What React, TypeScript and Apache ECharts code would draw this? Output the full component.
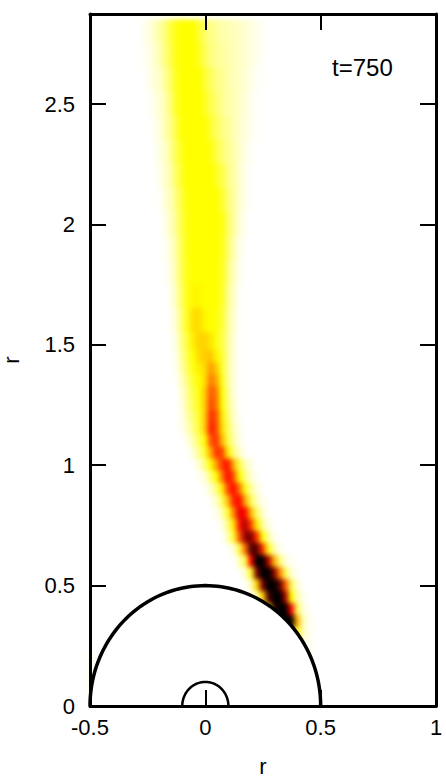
import React, { useEffect, useRef } from "react";
import * as echarts from "echarts";

// axis ticks and ranges
const xTicks = [-0.5, 0, 0.5, 1];
const yTicks = [0, 0.5, 1, 1.5, 2, 2.5];
const xMin = -0.5;
const xMax = 1;
const yMin = 0;
const yMax = 2.874;
const timeLabel = "t=750";
const axisName = "r";

// half-circles (radius in r units)
const sphereRadii = [0.5, 0.1];

// intensity field: 0 white, 3 yellow, 6 red, 9 black
const firstColumnX = -0.3;
const columnStep = 0.025;
const rowY = [
  2.8, 2.7, 2.6, 2.5, 2.4, 2.3, 2.2, 2.1, 2.0, 1.9, 1.8, 1.7, 1.6, 1.5, 1.45, 1.4, 1.35, 1.3, 1.25, 1.2,
  1.15, 1.1, 1.05, 1.0, 0.95, 0.9, 0.85, 0.8, 0.75, 0.7, 0.65, 0.6, 0.55, 0.5, 0.45, 0.4, 0.35, 0.3, 0.25, 0.2, 0.1,
];
const rowStart = [
  1, 1, 2, 2, 3, 3, 4, 4, 5, 5, 5, 6, 6, 6, 7, 7, 7, 8, 8, 8,
  8, 9, 10, 11, 11, 12, 13, 14, 15, 16, 17, 18, 19, 20, 21, 23, 25, 28, 30, -8, -8,
];
const rowLevels = [
  [0.1, 0.3, 0.6, 1, 1.5, 2.2, 2.8, 3, 3, 3, 2.4, 1.8, 1.4, 1.2, 1, 0.9, 0.8, 0.7, 0.5, 0.4, 0.2, 0.1],
  [0.05, 0.2, 0.5, 0.8, 1.4, 2.1, 2.7, 3, 3, 3, 2.6, 2, 1.5, 1.3, 1.1, 1, 0.8, 0.7, 0.5, 0.4, 0.2, 0.1],
  [0.1, 0.4, 0.6, 1.1, 1.8, 2.6, 3, 3, 3, 3, 2.4, 1.9, 1.5, 1.3, 1, 0.8, 0.7, 0.5, 0.3, 0.1, 0.05],
  [0.05, 0.2, 0.5, 0.8, 1.6, 2.5, 3, 3, 3, 3, 2.6, 2.1, 1.7, 1.3, 1, 0.9, 0.7, 0.4, 0.2, 0.05],
  [0.1, 0.4, 0.8, 1.4, 2.2, 2.9, 3, 3, 3, 3, 2.4, 1.9, 1.5, 1.2, 0.9, 0.6, 0.4, 0.2, 0.05],
  [0.05, 0.3, 0.6, 1.2, 2, 2.7, 3, 3, 3, 3, 2.8, 2.2, 1.7, 1.3, 1, 0.6, 0.3, 0.1],
  [0.2, 0.5, 1, 1.8, 2.5, 3, 3, 3, 3, 3, 2.6, 2.1, 1.5, 1, 0.6, 0.2, 0.05],
  [0.05, 0.4, 0.8, 1.5, 2.3, 2.9, 3, 3, 3, 3, 3, 2.4, 1.7, 1.1, 0.6, 0.2, 0.05],
  [0.2, 0.7, 1.3, 2.2, 2.8, 3, 3, 3, 3, 3, 2.8, 1.9, 1.1, 0.5, 0.1],
  [0.1, 0.5, 1.1, 2.1, 2.8, 3, 3, 3, 3, 3, 2.7, 1.8, 0.9, 0.3, 0.05],
  [0.05, 0.3, 1, 2, 2.8, 3, 3, 3, 3, 3, 2.6, 1.6, 0.7, 0.2],
  [0.2, 0.8, 1.9, 2.8, 3.1, 3.1, 3, 3, 3, 2.5, 1.4, 0.6, 0.1],
  [0.1, 0.6, 1.7, 2.7, 3.4, 3.4, 3.1, 3, 2.9, 2.3, 1.3, 0.5, 0.1],
  [0.05, 0.4, 1.4, 2.4, 3.2, 3.5, 3.5, 3.3, 2.8, 2.2, 1.2, 0.4, 0.05],
  [0.3, 1.2, 2.2, 3, 3.4, 3.6, 3.7, 3.1, 2.4, 1.2, 0.4, 0.05],
  [0.2, 1, 2, 2.8, 3.2, 3.4, 4.2, 3.6, 2.5, 1.2, 0.4, 0.05],
  [0.1, 0.7, 1.6, 2.5, 3, 3.4, 4.6, 4, 2.7, 1.2, 0.4, 0.05],
  [0.5, 1.3, 2.2, 2.9, 3.6, 5, 4.5, 3, 1.4, 0.4, 0.05],
  [0.4, 1.2, 2, 2.7, 3.6, 5.2, 4.6, 3, 1.5, 0.5, 0.1],
  [0.3, 1, 1.7, 2.5, 3.6, 5.5, 5, 3.2, 1.8, 0.6, 0.1],
  [0.2, 0.7, 1.5, 2.3, 3.6, 5.7, 5.1, 3.4, 2, 0.8, 0.2],
  [0.3, 1, 1.9, 3, 5, 5.4, 3.8, 2.2, 1, 0.3],
  [0.5, 1.3, 2.5, 4, 5.4, 5.2, 3.2, 1.6, 0.6, 0.1],
  [0.6, 1.5, 3, 4.2, 5.4, 5.8, 3.9, 2.2, 0.9, 0.3],
  [0.1, 0.5, 1.6, 3, 4.6, 5.9, 5, 3, 1.5, 0.5, 0.1],
  [0.1, 0.6, 1.6, 3.2, 5.2, 5.9, 4.6, 2.7, 1.2, 0.4, 0.05],
  [0.1, 0.7, 1.9, 3.8, 5.6, 5.9, 4, 2, 0.8, 0.2],
  [0.2, 0.9, 2.5, 4.5, 6.3, 5.9, 3.8, 1.8, 0.6, 0.1],
  [0.3, 1.5, 3.3, 5.8, 6.9, 5.3, 3.2, 1.3, 0.3],
  [0.9, 2.5, 5, 7.3, 7.5, 5.5, 3, 1.1, 0.2],
  [0.5, 2.2, 4.8, 8, 8, 5.5, 2.8, 1, 0.2],
  [0.8, 2.2, 6, 9, 9, 7, 4, 1.6, 0.4, 0.1],
  [0.6, 2.5, 7.5, 9, 9, 7.5, 4.5, 2, 0.5, 0.1],
  [0.8, 3.5, 7.5, 9, 9, 8, 5, 2, 0.5],
  [1, 3.5, 8, 9, 9, 7, 3, 1, 0.2],
  [3.5, 8.5, 9, 9, 6, 2, 0.5, 0.1],
  [9, 9, 9, 4, 1, 0.2],
  [3, 0.8, 0.2],
  [0.2],
  [0.15, 0.05],
  [0.25, 0.05],
];
const levelColors = ["#ffffff", "#ffff00", "#ff0000", "#000000"];

const fontFamily = "'Liberation Sans', Arial, sans-serif";

function rowBounds(r: number): [number, number] {
  const y = rowY[r];
  const up = r > 0 ? (rowY[r - 1] + y) / 2 : y + 0.05;
  const down = r < rowY.length - 1 ? (rowY[r + 1] + y) / 2 : y - 0.05;
  return [down, up];
}

const cells: number[][] = [];
rowLevels.forEach((levels, r) => {
  const [low, high] = rowBounds(r);
  levels.forEach((v, k) => {
    cells.push([firstColumnX + (rowStart[r] + k) * columnStep, rowY[r], v, low, high]);
  });
});

const grid = { left: 90, top: 14, width: 346, height: 692, outerBoundsMode: "none" };

function plumeOption(): any {
  return {
    animation: false,
    backgroundColor: "#ffffff",
    grid,
    xAxis: { type: "value", min: xMin, max: xMax, show: false },
    yAxis: { type: "value", min: yMin, max: yMax, show: false },
    visualMap: {
      show: false,
      type: "continuous",
      min: 0,
      max: 9,
      dimension: 2,
      seriesIndex: 0,
      inRange: { color: levelColors },
    },
    series: [
      {
        type: "custom",
        silent: true,
        clip: false,
        encode: { x: 0, y: 1 },
        data: cells,
        renderItem: (_: any, api: any) => {
          const half = columnStep / 2;
          const a = api.coord([api.value(0) - half, api.value(4)]);
          const b = api.coord([api.value(0) + half, api.value(3)]);
          return {
            type: "rect",
            shape: { x: a[0] - 0.5, y: a[1] - 0.5, width: b[0] - a[0] + 1, height: b[1] - a[1] + 1 },
            style: { fill: api.visual("color") },
          };
        },
      },
    ],
  };
}

function frameOption(): any {
  const line = { show: true, onZero: false, lineStyle: { color: "#000", width: 3 } };
  const tick = { show: true, inside: true, length: 16, lineStyle: { color: "#000", width: 2 } };
  const label = { color: "#000", fontSize: 22, fontFamily };
  const common = { type: "value", splitLine: { show: false }, axisLine: line, axisTick: tick, z: 5 };
  const xAxisBase = { ...common, min: xMin, max: xMax, interval: 0.5 };
  const yAxisBase = { ...common, min: yMin, max: yMax, interval: 0.5 };
  const xText = (v: number) => (xTicks.includes(v) ? String(v) : "");
  const yText = (v: number) => (yTicks.includes(v) ? String(v) : "");
  return {
    animation: false,
    backgroundColor: "transparent",
    grid,
    textStyle: { fontFamily },
    xAxis: [
      {
        ...xAxisBase,
        position: "bottom",
        name: axisName,
        nameLocation: "middle",
        nameGap: 49,
        nameTextStyle: { ...label },
        axisLabel: { ...label, margin: 10, formatter: xText, hideOverlap: false },
      },
      { ...xAxisBase, position: "top", axisLabel: { show: false } },
    ],
    yAxis: [
      {
        ...yAxisBase,
        position: "left",
        name: axisName,
        nameLocation: "middle",
        nameGap: 68,
        nameRotate: 90,
        nameTextStyle: { ...label },
        axisLabel: { ...label, margin: 15, formatter: yText, showMaxLabel: false },
      },
      { ...yAxisBase, position: "right", axisLabel: { show: false } },
    ],
    graphic: [
      {
        type: "text",
        x: 332,
        y: 55,
        style: { text: timeLabel, fill: "#000", fontSize: 24, fontFamily },
      },
    ],
    series: [
      {
        type: "custom",
        silent: true,
        clip: false,
        z: 3,
        xAxisIndex: 0,
        yAxisIndex: 0,
        encode: { x: 0, y: 1 },
        data: sphereRadii.map((r) => [0, 0, r]),
        renderItem: (params: any, api: any) => {
          const r = api.value(2);
          const points: number[][] = [];
          for (let a = 0; a <= 180; a += 2) {
            const t = (a * Math.PI) / 180;
            points.push(api.coord([r * Math.cos(t), r * Math.sin(t)]));
          }
          const big = params.dataIndex === 0;
          return {
            type: "polyline",
            shape: { points },
            style: { fill: big ? "#ffffff" : "none", stroke: "#000", lineWidth: big ? 3.5 : 2.5 },
          };
        },
      },
    ],
  };
}

export default function App() {
  const under = useRef<HTMLDivElement>(null);
  const over = useRef<HTMLDivElement>(null);
  useEffect(() => {
    const a = echarts.init(under.current!, undefined, { renderer: "svg" });
    const b = echarts.init(over.current!, undefined, { renderer: "svg" });
    a.setOption(plumeOption());
    b.setOption(frameOption());
    return () => {
      a.dispose();
      b.dispose();
    };
  }, []);
  const layer: React.CSSProperties = { position: "absolute", left: 0, top: 0, width: 446, height: 779 };
  return (
    <div style={{ position: "absolute", left: 0, top: 0, width: 446, height: 779, overflow: "hidden", background: "#fff" }}>
      <div ref={under} style={{ ...layer, filter: "blur(2.5px)" }} />
      <div ref={over} style={layer} />
    </div>
  );
}
